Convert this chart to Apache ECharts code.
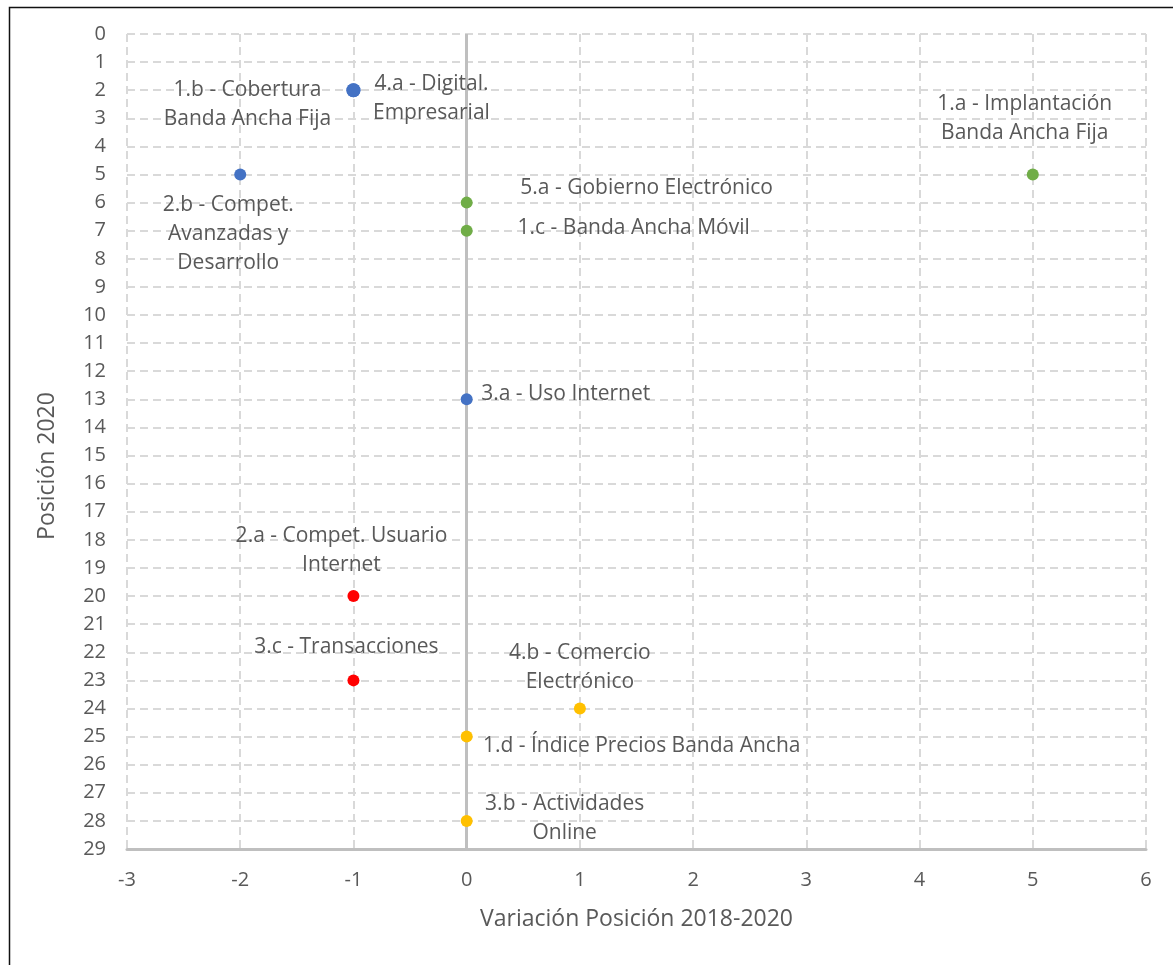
<!DOCTYPE html>
<html>
<head>
<meta charset="utf-8">
<title>Posición 2020 vs Variación 2018-2020</title>
<script src="https://cdn.jsdelivr.net/npm/echarts@6/dist/echarts.min.js"></script>
<style>
  html, body { margin: 0; padding: 0; background: #ffffff; }
  #chart { width: 1173px; height: 965px; }
</style>
</head>
<body>
<div id="chart"></div>
<script>
// Indicators: name, change in rank 2018-2020, rank in 2020, indicator group
const indicatorNames = [
  '1.a - Implantación\nBanda Ancha Fija',
  '1.b - Cobertura\nBanda Ancha Fija',
  '4.a - Digital.\nEmpresarial',
  '2.b - Compet.\nAvanzadas y\nDesarrollo',
  '5.a - Gobierno Electrónico',
  '1.c - Banda Ancha Móvil',
  '3.a - Uso Internet',
  '2.a - Compet. Usuario\nInternet',
  '3.c - Transacciones',
  '4.b - Comercio\nElectrónico',
  '1.d - Índice Precios Banda Ancha',
  '3.b - Actividades\nOnline'
];
const variation = [5, -1, -1, -2, 0, 0, 0, -1, -1, 1, 0, 0];
const position2020 = [5, 2, 2, 5, 6, 7, 13, 20, 23, 24, 25, 28];
const groupIndex = [0, 1, 1, 1, 0, 0, 1, 2, 2, 3, 3, 3];

// Axis ticks
const xTicks = { min: -3, max: 6, step: 1 };
const yTicks = { min: 0, max: 29, step: 1 };

// Presentation
const groupColors = ['#70ad47', '#4472c4', '#ff0000', '#ffc000'];
// label centre relative to its marker, in pixels
const labelOffsets = [
  [-8, -56], [-106, 14], [78, 8], [-12, 59], [180, -15], [167, -3],
  [99, -5], [-12, -46], [-7, -33], [0, -41], [175, 9], [98, -2]
];
const markerSizes = [12, 14, 14, 12, 12, 12, 12, 12, 12, 12, 12, 12];

const textColor = '#595959';
const fontFamily = '"Open Sans", "Noto Sans", sans-serif';

const points = indicatorNames.map((name, i) => ({
  name: name,
  value: [variation[i], position2020[i]],
  symbolSize: markerSizes[i],
  itemStyle: { color: groupColors[groupIndex[i]], opacity: 1 }
}));

const chart = echarts.init(document.getElementById('chart'), null, { renderer: 'canvas' });

chart.setOption({
  animation: false,
  backgroundColor: '#ffffff',
  textStyle: { fontFamily: fontFamily },
  grid: { left: 127, right: 27, top: 34, bottom: 116, containLabel: false },
  graphic: [
    {
      type: 'rect',
      left: 7, top: 5,
      shape: { width: 1185, height: 980 },
      style: { fill: 'none', stroke: '#111111', lineWidth: 1.5 },
      silent: true, z: 100
    },
    {
      // vertical axis title
      type: 'text',
      x: 47, y: 466,
      rotation: Math.PI / 2,
      style: {
        text: 'Posición 2020',
        fill: textColor,
        font: '23px ' + fontFamily,
        align: 'center',
        verticalAlign: 'middle'
      },
      silent: true
    }
  ],
  xAxis: {
    type: 'value',
    min: xTicks.min, max: xTicks.max, interval: xTicks.step,
    name: 'Variación Posición 2018-2020',
    nameLocation: 'middle',
    nameGap: 59,
    nameTextStyle: { fontSize: 23, color: textColor, fontFamily: fontFamily },
    axisLine: { onZero: false, lineStyle: { color: '#bfbfbf', width: 3 } },
    axisTick: { show: false },
    axisLabel: { fontSize: 20, color: textColor, margin: 21, fontFamily: fontFamily },
    splitLine: { show: true, lineStyle: { color: '#d9d9d9', width: 2, type: [8, 5] } }
  },
  yAxis: {
    type: 'value',
    inverse: true,
    min: yTicks.min, max: yTicks.max, interval: yTicks.step,
    axisLine: { show: false },
    axisTick: { show: false },
    axisLabel: { fontSize: 20, color: textColor, margin: 21, fontFamily: fontFamily },
    splitLine: { show: true, lineStyle: { color: '#d9d9d9', width: 2, type: [8, 5] } }
  },
  series: [{
    type: 'scatter',
    z: 3,
    data: points,
    itemStyle: { opacity: 1 },
    label: {
      show: true,
      position: 'inside',
      align: 'center',
      verticalAlign: 'middle',
      formatter: p => p.name,
      fontSize: 21,
      lineHeight: 29,
      color: textColor,
      fontFamily: fontFamily
    },
    labelLayout: params => {
      const o = labelOffsets[params.dataIndex];
      return { dx: o[0], dy: o[1], hideOverlap: false };
    },
    markLine: {
      silent: true,
      symbol: 'none',
      label: { show: false },
      lineStyle: { color: '#bfbfbf', width: 3, type: 'solid' },
      data: [{ xAxis: 0 }],
      z: 1
    }
  }]
});
</script>
</body>
</html>
